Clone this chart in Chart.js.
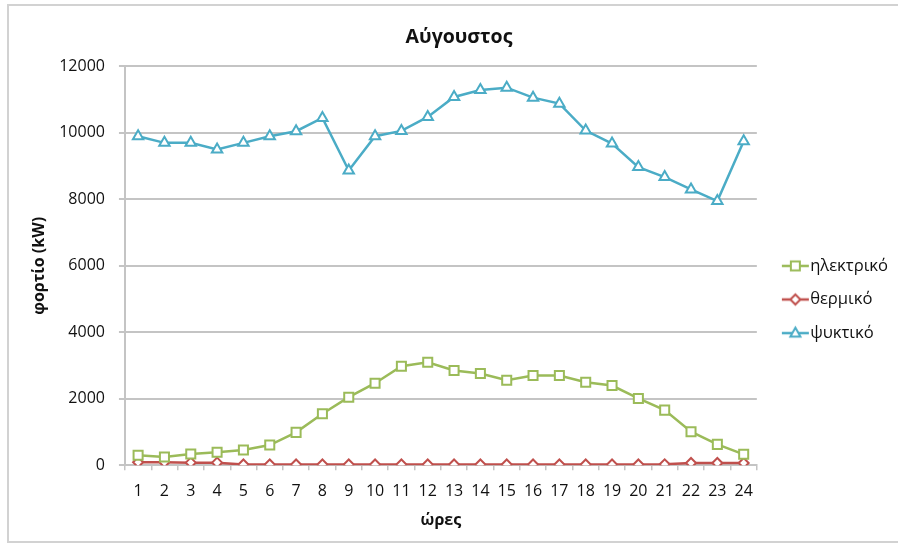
<!DOCTYPE html>
<html>
<head>
<meta charset="utf-8">
<script src="https://cdn.jsdelivr.net/npm/chart.js@4/dist/chart.umd.min.js"></script>
<style>
  html, body { margin: 0; padding: 0; background: #ffffff; }
  #frame { position: absolute; left: 7px; top: 4px; width: 960px; height: 539px; border: 2px solid #d2d2d2; box-sizing: border-box; }
  #wrap { position: absolute; left: 0; top: 0; width: 898px; height: 546px; }
</style>
</head>
<body>
<div id="frame"></div>
<div id="wrap"><canvas id="chart"></canvas></div>
<script>
// Hourly loads for August (kW)
const hours = ['1','2','3','4','5','6','7','8','9','10','11','12','13','14','15','16','17','18','19','20','21','22','23','24'];
const electric = [300, 250, 340, 390, 460, 610, 990, 1550, 2050, 2470, 2980, 3100, 2850, 2760, 2560, 2700, 2700, 2500, 2400, 2010, 1660, 1010, 630, 330];
const thermal  = [90, 90, 80, 80, 25, 25, 25, 25, 25, 25, 25, 25, 25, 25, 25, 25, 25, 25, 25, 25, 30, 70, 70, 70];
const cooling  = [9900, 9700, 9700, 9500, 9700, 9900, 10050, 10450, 8870, 9900, 10060, 10480, 11080, 11290, 11360, 11060, 10880, 10070, 9680, 8970, 8670, 8300, 7950, 9750];
const yTicks = { min: 0, max: 12000, step: 2000 };

const GREEN = '#9BBB59', RED = '#C0504D', BLUE = '#4BACC6';
const TEXT = '#111111', GRID = '#c4c4c4';
const FONT = '"Open Sans", "DejaVu Sans", sans-serif';

// Legend sample: short line with the series marker in the middle
function legendIcon(color, shape) {
  const c = document.createElement('canvas');
  c.width = 44; c.height = 16;
  const g = c.getContext('2d');
  g.strokeStyle = color; g.lineWidth = 2.5;
  g.beginPath(); g.moveTo(16, 8); g.lineTo(43, 8); g.stroke();
  const cx = 29.5, cy = 8;
  g.fillStyle = '#ffffff'; g.lineWidth = 2;
  g.beginPath();
  if (shape === 'rect') {
    g.rect(cx - 4.5, cy - 4.5, 9, 9);
  } else if (shape === 'rectRot') {
    g.moveTo(cx, cy - 5); g.lineTo(cx + 5, cy); g.lineTo(cx, cy + 5); g.lineTo(cx - 5, cy); g.closePath();
  } else {
    g.moveTo(cx, cy - 5.5); g.lineTo(cx + 5, cy + 3.5); g.lineTo(cx - 5, cy + 3.5); g.closePath();
  }
  g.fill(); g.stroke();
  return c;
}

function series(label, data, color, shape, radius) {
  return {
    label, data,
    borderColor: color, borderWidth: 2.5,
    backgroundColor: '#ffffff',
    pointStyle: shape, pointRadius: radius, pointHoverRadius: radius,
    pointBorderColor: color, pointBackgroundColor: '#ffffff', pointBorderWidth: 2,
    tension: 0, fill: false,
    legendIcon: legendIcon(color, shape)
  };
}

const ctx = document.getElementById('chart').getContext('2d');
new Chart(ctx, {
  type: 'line',
  data: {
    labels: hours,
    datasets: [
      series('ηλεκτρικό', electric, GREEN, 'rect', 6.4),
      series('θερμικό', thermal, RED, 'rectRot', 5),
      series('ψυκτικό', cooling, BLUE, 'triangle', 6)
    ]
  },
  options: {
    responsive: true,
    maintainAspectRatio: false,
    devicePixelRatio: 1,
    animation: false,
    layout: { padding: { left: 20, right: 0, top: 0, bottom: 8 } },
    plugins: {
      title: {
        display: true, text: 'Αύγουστος', color: TEXT,
        font: { family: FONT, size: 19.5, weight: 'bold' },
        padding: { top: 26, bottom: 17 }
      },
      legend: {
        position: 'right',
        title: { display: true, text: '', font: { size: 10 }, padding: 24.5 },
        labels: {
          color: TEXT,
          font: { family: FONT, size: 16.6 },
          usePointStyle: true,
          pointStyleWidth: 28,
          padding: 17,
          generateLabels(chart) {
            const items = Chart.defaults.plugins.legend.labels.generateLabels(chart);
            items.forEach(it => { it.pointStyle = chart.data.datasets[it.datasetIndex].legendIcon; });
            return items;
          }
        }
      },
      tooltip: { enabled: false }
    },
    scales: {
      x: {
        offset: true,
        grid: { display: true, drawOnChartArea: false, drawTicks: true, tickLength: 5, offset: true, color: GRID, lineWidth: 1.5 },
        border: { display: true, color: GRID, width: 2 },
        ticks: { color: TEXT, font: { family: FONT, size: 16, lineHeight: 1 }, padding: 13.5, autoSkip: false, maxRotation: 0 },
        title: { display: true, text: 'ώρες', color: TEXT, font: { family: FONT, size: 16, weight: 'bold' }, padding: { top: -2.5, bottom: 8 } }
      },
      y: {
        min: yTicks.min, max: yTicks.max,
        grid: { color: GRID, lineWidth: 2, tickLength: 6 },
        border: { display: true, color: GRID, width: 2 },
        ticks: { stepSize: yTicks.step, color: TEXT, font: { family: FONT, size: 16 }, padding: 14, callback: v => String(v) },
        title: { display: true, text: 'φορτίο (kW)', color: TEXT, font: { family: FONT, size: 16, weight: 'bold' }, padding: { top: 10, bottom: -4 } }
      }
    }
  }
});
</script>
</body>
</html>
